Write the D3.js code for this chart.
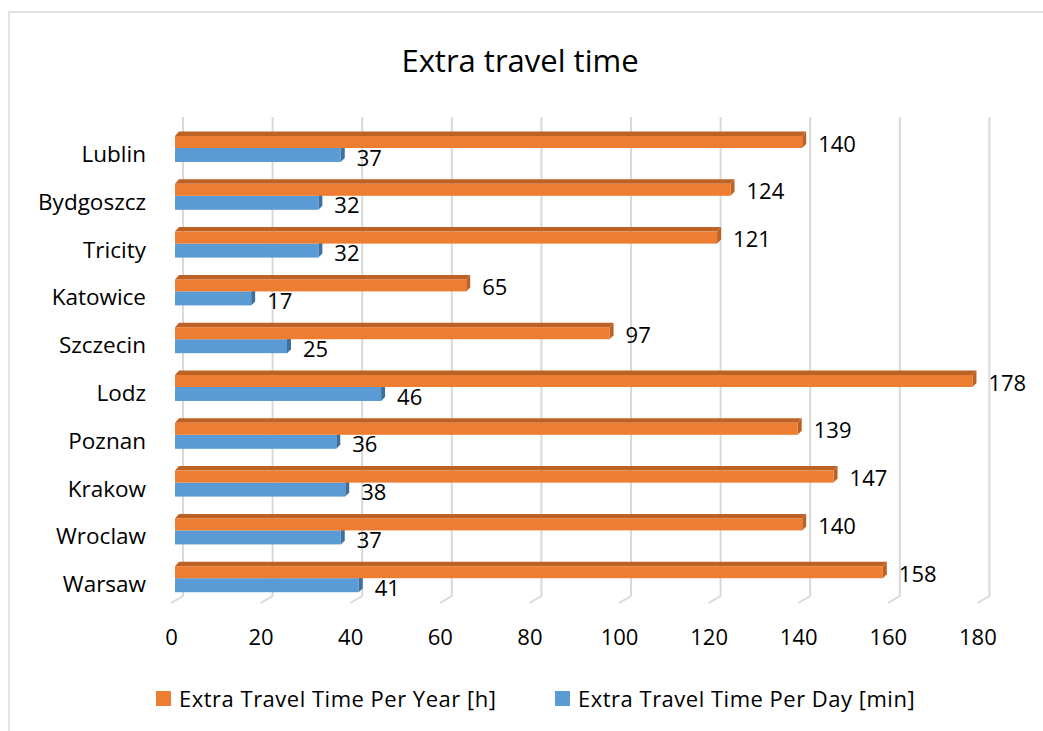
<!DOCTYPE html>
<html lang="en">

<head>
    <meta charset="UTF-8">
    <title>Extra travel time</title>
    <script src="https://cdn.jsdelivr.net/npm/d3@7"></script>
    <style>
        body { margin: 0; background: #fff; }
        text { font-family: 'Open Sans', sans-serif; fill: #000; }
    </style>
</head>

<body>
    <svg width="1043" height="731" id="mainsvg"></svg>
    <script>
        // data, bottom to top as in the chart
        const cities = ['Warsaw', 'Wroclaw', 'Krakow', 'Poznan', 'Lodz', 'Szczecin', 'Katowice', 'Tricity', 'Bydgoszcz', 'Lublin'];
        const perYear = [158, 140, 147, 139, 178, 97, 65, 121, 124, 140];
        const perDay = [41, 37, 38, 36, 46, 25, 17, 32, 32, 37];
        const tickValues = [0, 20, 40, 60, 80, 100, 120, 140, 160, 180];
        const seriesNames = ['Extra Travel Time Per Year [h]', 'Extra Travel Time Per Day [min]'];

        const orange = '#ED7D31', orangeDark = '#BE6125';
        const blue = '#5B9BD5', blueDark = '#3F6F9C';

        const svg = d3.select('#mainsvg');
        const width = +svg.attr('width');
        const height = +svg.attr('height');

        // chart border
        svg.append('rect')
            .attr('x', 9).attr('y', 12)
            .attr('width', width + 20).attr('height', height + 20)
            .attr('fill', '#fff').attr('stroke', '#d9d9d9').attr('stroke-width', 1.5);

        const data = cities.map((c, i) => ({ city: c, year: perYear[i], day: perDay[i] }));

        const xScale = d3.scaleLinear().domain([0, 180]).range([175, 175 + 180 * 4.48]);
        const yScale = d3.scaleBand()
            .domain(cities.slice().reverse())
            .range([131.5, 592.2])
            .paddingInner(0.362)
            .paddingOuter(0);

        const depth = 4;      // 3d offset of bar top/side
        const topH = 4.5;     // visible top face
        const orangeH = 12;
        const blueH = 14;

        // back wall gridlines with a short floor segment
        svg.append('g').selectAll('path').data(tickValues).enter()
            .append('path')
            .attr('d', v => {
                const bx = xScale(v) + 8;
                return `M${bx},117 V596 L${bx - 12},603`;
            })
            .attr('fill', 'none')
            .attr('stroke', '#d9d9d9')
            .attr('stroke-width', 2);

        const g = svg.append('g');

        data.forEach(d => {
            const y0 = yScale(d.city);
            const x0 = xScale(0);

            // blue (per day), drawn first so orange covers its hidden top
            const xb = xScale(d.day);
            const yb0 = y0 + topH + orangeH, yb1 = yb0 + blueH;
            g.append('polygon')
                .attr('points', [[xb, yb0], [xb + depth, yb0 - depth], [xb + depth, yb1 - depth], [xb, yb1]].join(' '))
                .attr('fill', blueDark);
            g.append('rect')
                .attr('x', x0).attr('y', yb0)
                .attr('width', xb - x0).attr('height', blueH)
                .attr('fill', blue);

            // orange (per year)
            const xo = xScale(d.year);
            const yo0 = y0 + topH, yo1 = yo0 + orangeH;
            g.append('polygon')
                .attr('points', [[x0, yo0], [x0 + depth, y0], [xo + depth, y0], [xo, yo0]].join(' '))
                .attr('fill', orangeDark);
            g.append('polygon')
                .attr('points', [[xo, yo0], [xo + depth, y0], [xo + depth, yo1 - depth], [xo, yo1]].join(' '))
                .attr('fill', orangeDark);
            g.append('rect')
                .attr('x', x0).attr('y', yo0)
                .attr('width', xo - x0).attr('height', orangeH)
                .attr('fill', orange);

            // value labels
            g.append('text')
                .attr('x', xo + 16).attr('y', y0 + 20)
                .attr('font-size', '22px')
                .text(d.year);
            g.append('text')
                .attr('x', xb + 16).attr('y', y0 + 34)
                .attr('font-size', '22px')
                .text(d.day);

            // category label
            g.append('text')
                .attr('x', 146).attr('y', y0 + 30.5)
                .attr('text-anchor', 'end')
                .attr('font-size', '22.5px')
                .text(d.city);
        });

        // value axis along the front of the floor
        const xAxis = d3.axisBottom(xScale).tickValues(tickValues).tickSize(0).tickPadding(0);
        const axisG = svg.append('g')
            .attr('transform', 'translate(-4,629.5)')
            .call(xAxis);
        axisG.select('.domain').remove();
        axisG.selectAll('.tick text')
            .attr('font-size', '22px')
            .attr('font-family', "'Open Sans', sans-serif")
            .attr('fill', '#000');

        // title
        svg.append('text').text('Extra travel time')
            .attr('x', 520).attr('y', 72)
            .attr('text-anchor', 'middle')
            .attr('font-size', '31px');

        // legend
        const legend = svg.append('g');
        const legendX = [156, 555];
        const legendCol = [orange, blue];
        seriesNames.forEach((name, i) => {
            legend.append('rect')
                .attr('x', legendX[i]).attr('y', 691)
                .attr('width', 15).attr('height', 15)
                .attr('fill', legendCol[i]);
            legend.append('text')
                .attr('x', legendX[i] + 23).attr('y', 707)
                .attr('font-size', '22px')
                .attr('letter-spacing', '0.5px')
                .text(name);
        });
    </script>
</body>

</html>
